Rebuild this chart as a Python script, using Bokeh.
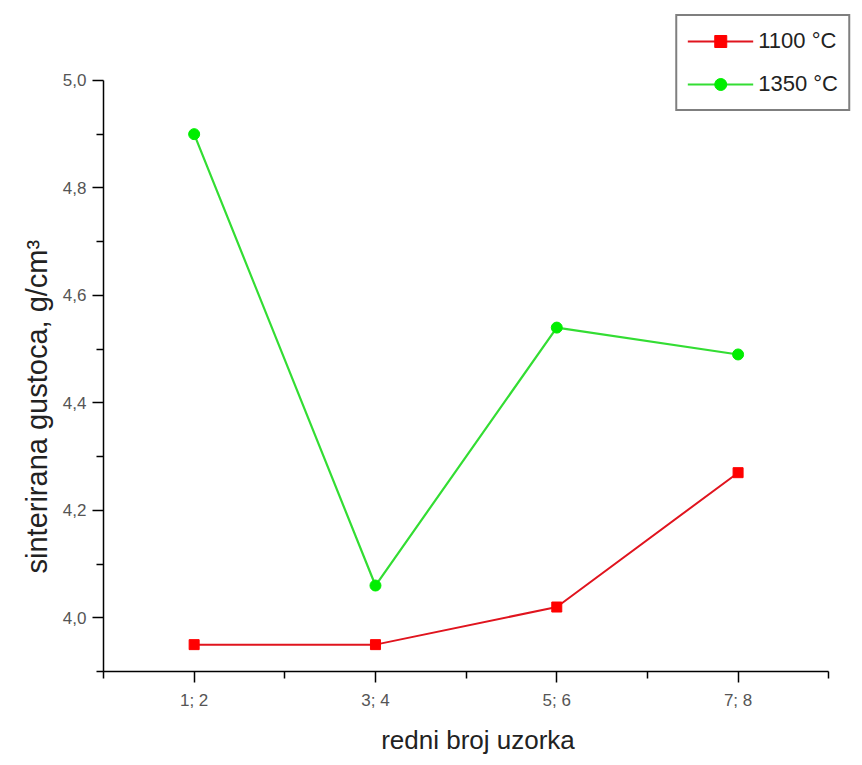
from bokeh.plotting import figure
from bokeh.models import FixedTicker, CustomJSTickFormatter, Legend, LegendItem, Range1d, Title
from bokeh.embed import file_html
from bokeh.resources import INLINE

samples = [1, 2, 3, 4]
sample_labels = ["1; 2", "3; 4", "5; 6", "7; 8"]
dens_1100 = [3.95, 3.95, 4.02, 4.27]
dens_1350 = [4.90, 4.06, 4.54, 4.49]
y_ticks = [4.0, 4.2, 4.4, 4.6, 4.8, 5.0]
y_minor = [3.9, 4.1, 4.3, 4.5, 4.7, 4.9]
x_minor = [0.5, 1.5, 2.5, 3.5, 4.5]

FONT = "Liberation Sans"

p = figure(width=854, height=757, output_backend="svg", toolbar_location=None,
           x_range=Range1d(0.5, 4.631), y_range=Range1d(3.9, 5.1264),
           min_border_left=103, min_border_right=2, min_border_top=12, min_border_bottom=86)
p.outline_line_color = None
p.xgrid.grid_line_color = None
p.ygrid.grid_line_color = None

r1 = p.line(samples, dens_1100, line_color="#e0141e", line_width=2)
m1 = p.scatter(samples, dens_1100, marker="square", size=10, fill_color="#ff0000", line_color="#ff0000")
r2 = p.line(samples, dens_1350, line_color="#33dd33", line_width=2.2)
m2 = p.scatter(samples, dens_1350, marker="circle", size=11, fill_color="#00ee00", line_color="#00ee00")

for ax in (p.xaxis[0], p.yaxis[0]):
    ax.axis_line_color = "black"
    ax.axis_line_width = 1.5
    ax.major_tick_line_color = "black"
    ax.minor_tick_line_color = "black"
    ax.major_tick_line_width = 1.5
    ax.minor_tick_line_width = 1.5
    ax.major_tick_out = 11
    ax.major_tick_in = 0
    ax.minor_tick_out = 7
    ax.minor_tick_in = 0
    ax.major_label_text_font = FONT
    ax.major_label_text_font_size = "17px"
    ax.major_label_text_color = "#555555"
    ax.axis_label_text_font = FONT
    ax.axis_label_text_font_style = "normal"
    ax.axis_label_text_color = "#222222"

p.xaxis.bounds = (0.5, 4.5)
p.xaxis.ticker = FixedTicker(ticks=samples, minor_ticks=x_minor)
p.xaxis.major_label_overrides = {s: l for s, l in zip(samples, sample_labels)}
p.xaxis.major_label_standoff = 8
p.xaxis.axis_label = "redni broj uzorka"
p.xaxis.axis_label_text_font_size = "26px"
p.xaxis.axis_label_standoff = 12

p.yaxis.bounds = (3.9, 5.0)
p.yaxis.ticker = FixedTicker(ticks=y_ticks, minor_ticks=y_minor)
p.yaxis.formatter = CustomJSTickFormatter(code="return tick.toFixed(1).replace('.', ',');")
p.yaxis.major_label_standoff = 6

ytitle = Title(text="sinterirana gustoca, g/cm³", align="left", offset=98, standoff=14,
               text_font=FONT, text_font_size="29px", text_font_style="normal",
               text_color="#222222")
p.add_layout(ytitle, "left")

legend = Legend(items=[LegendItem(label="1100 °C", renderers=[r1, m1]),
                       LegendItem(label="1350 °C", renderers=[r2, m2])],
                location="top_right")
legend.border_line_color = "black"
legend.border_line_width = 2
legend.background_fill_alpha = 1
legend.label_text_font = FONT
legend.label_text_font_size = "22px"
legend.label_text_color = "#222222"
legend.glyph_width = 66
legend.glyph_height = 30
legend.label_height = 30
legend.spacing = 13
legend.padding = 10
legend.margin = 2
legend.label_standoff = 5
p.add_layout(legend, "center")

open("out.html", "w").write(file_html(p, INLINE))
